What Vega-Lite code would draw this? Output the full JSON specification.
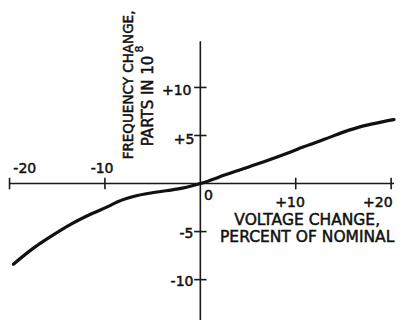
{
  "$schema": "https://vega.github.io/schema/vega-lite/v6.json",
  "width": 401,
  "height": 321,
  "autosize": {"type": "fit", "contains": "padding"},
  "padding": 0,
  "background": "white",
  "config": {"view": {"stroke": null}},
  "datasets": {
    "curve": [
      {"v": -19.6, "f": -8.4},
      {"v": -17.6, "f": -6.8},
      {"v": -15.5, "f": -5.4},
      {"v": -13.5, "f": -4.2},
      {"v": -11.4, "f": -3.15},
      {"v": -9.7, "f": -2.4},
      {"v": -8.66, "f": -1.9},
      {"v": -6.6, "f": -1.25},
      {"v": -4.5, "f": -0.88},
      {"v": -2.47, "f": -0.58},
      {"v": -1.44, "f": -0.38},
      {"v": 0, "f": 0},
      {"v": 2.7, "f": 0.93},
      {"v": 5.8, "f": 1.97},
      {"v": 8.9, "f": 3.08},
      {"v": 10.9, "f": 3.85},
      {"v": 13.0, "f": 4.6},
      {"v": 15.0, "f": 5.35},
      {"v": 17.1, "f": 6.0},
      {"v": 19.2, "f": 6.45},
      {"v": 20.3, "f": 6.65}
    ],
    "axislines": [
      {"x": -20, "x2": 20.3, "y": 0, "y2": 0},
      {"x": 0, "x2": 0, "y": -14.2, "y2": 14.8}
    ],
    "xticks": [{"v": -20}, {"v": -10}, {"v": 10}, {"v": 20}],
    "yticks": [{"v": 10}, {"v": 5}, {"v": -5}, {"v": -10}],
    "labels": [
      {"role": "xtick", "text": "-20", "x": -18.4, "y": 1.5},
      {"role": "xtick", "text": "-10", "x": -10.3, "y": 1.5},
      {"role": "xtick", "text": "0", "x": 0.85, "y": -1.3},
      {"role": "xtick", "text": "+10", "x": 9.4, "y": -2.0},
      {"role": "xtick", "text": "+20", "x": 18.6, "y": -2.0},
      {"role": "ytick", "text": "+10", "x": -0.93, "y": 9.6},
      {"role": "ytick", "text": "+5", "x": -0.62, "y": 4.5},
      {"role": "ytick", "text": "-5", "x": -0.72, "y": -5.3},
      {"role": "ytick", "text": "-10", "x": -0.72, "y": -10.27},
      {"role": "xtitle", "text": "VOLTAGE CHANGE,", "x": 11.2, "y": -3.84},
      {"role": "xtitle", "text": "PERCENT OF NOMINAL", "x": 11.2, "y": -5.6},
      {"role": "ytitle1", "text": "FREQUENCY CHANGE,", "x": -7.53, "y": 10.26},
      {"role": "ytitle2", "text": "PARTS IN 10", "x": -5.46, "y": 8.6},
      {"role": "exp", "text": "8", "x": -6.29, "y": 14.0}
    ]
  },
  "encoding": {
    "x": {"type": "quantitative", "scale": {"domain": [-21, 20.3], "nice": false, "zero": false}, "axis": null},
    "y": {"type": "quantitative", "scale": {"domain": [-14.2, 19.1], "nice": false, "zero": false}, "axis": null}
  },
  "layer": [
    {
      "data": {"name": "axislines"},
      "mark": {"type": "rule", "color": "#1a1a1a", "strokeWidth": 1.6},
      "encoding": {
        "x": {"field": "x", "type": "quantitative"},
        "x2": {"field": "x2"},
        "y": {"field": "y", "type": "quantitative"},
        "y2": {"field": "y2"}
      }
    },
    {
      "data": {"name": "xticks"},
      "mark": {"type": "rule", "color": "#1a1a1a", "strokeWidth": 1.6},
      "encoding": {
        "x": {"field": "v", "type": "quantitative"},
        "y": {"datum": -0.6},
        "y2": {"datum": 0.6}
      }
    },
    {
      "data": {"name": "yticks"},
      "mark": {"type": "rule", "color": "#1a1a1a", "strokeWidth": 1.6},
      "encoding": {
        "y": {"field": "v", "type": "quantitative"},
        "x": {"datum": -0.65},
        "x2": {"datum": 0.65}
      }
    },
    {
      "data": {"name": "curve"},
      "mark": {"type": "line", "color": "#111111", "strokeWidth": 3.2, "interpolate": "monotone", "strokeCap": "round"},
      "encoding": {
        "x": {"field": "v", "type": "quantitative"},
        "y": {"field": "f", "type": "quantitative"}
      }
    },
    {
      "data": {"name": "labels"},
      "transform": [{"filter": "datum.role === 'xtick'"}],
      "mark": {"type": "text", "font": "DejaVu Sans", "fontSize": 14, "color": "#111111", "stroke": "#111111", "strokeWidth": 0.5, "align": "center", "baseline": "middle"},
      "encoding": {
        "x": {"field": "x", "type": "quantitative"},
        "y": {"field": "y", "type": "quantitative"},
        "text": {"field": "text"}
      }
    },
    {
      "data": {"name": "labels"},
      "transform": [{"filter": "datum.role === 'ytick'"}],
      "mark": {"type": "text", "font": "DejaVu Sans", "fontSize": 14, "color": "#111111", "stroke": "#111111", "strokeWidth": 0.5, "align": "right", "baseline": "middle"},
      "encoding": {
        "x": {"field": "x", "type": "quantitative"},
        "y": {"field": "y", "type": "quantitative"},
        "text": {"field": "text"}
      }
    },
    {
      "data": {"name": "labels"},
      "transform": [{"filter": "datum.role === 'xtitle'"}],
      "mark": {"type": "text", "font": "DejaVu Sans", "fontSize": 15.5, "color": "#111111", "stroke": "#111111", "strokeWidth": 0.5, "align": "center", "baseline": "middle"},
      "encoding": {
        "x": {"field": "x", "type": "quantitative"},
        "y": {"field": "y", "type": "quantitative"},
        "text": {"field": "text"}
      }
    },
    {
      "data": {"name": "labels"},
      "transform": [{"filter": "datum.role === 'ytitle1'"}],
      "mark": {"type": "text", "font": "DejaVu Sans", "fontSize": 13.5, "color": "#111111", "stroke": "#111111", "strokeWidth": 0.5, "align": "center", "baseline": "middle", "angle": 270},
      "encoding": {
        "x": {"field": "x", "type": "quantitative"},
        "y": {"field": "y", "type": "quantitative"},
        "text": {"field": "text"}
      }
    },
    {
      "data": {"name": "labels"},
      "transform": [{"filter": "datum.role === 'ytitle2'"}],
      "mark": {"type": "text", "font": "DejaVu Sans", "fontSize": 15, "color": "#111111", "stroke": "#111111", "strokeWidth": 0.5, "align": "center", "baseline": "middle", "angle": 270},
      "encoding": {
        "x": {"field": "x", "type": "quantitative"},
        "y": {"field": "y", "type": "quantitative"},
        "text": {"field": "text"}
      }
    },
    {
      "data": {"name": "labels"},
      "transform": [{"filter": "datum.role === 'exp'"}],
      "mark": {"type": "text", "font": "DejaVu Sans", "fontSize": 11, "color": "#111111", "stroke": "#111111", "strokeWidth": 0.4, "align": "center", "baseline": "middle", "angle": 270},
      "encoding": {
        "x": {"field": "x", "type": "quantitative"},
        "y": {"field": "y", "type": "quantitative"},
        "text": {"field": "text"}
      }
    }
  ]
}
